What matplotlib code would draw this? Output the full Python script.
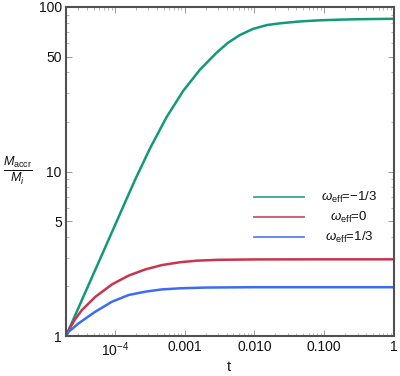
import numpy as np
import matplotlib
matplotlib.use("Agg")
import matplotlib.pyplot as plt
from matplotlib.ticker import FixedLocator, FixedFormatter, NullFormatter, LogLocator

plt.rcParams['font.family'] = ['Liberation Sans', 'DejaVu Sans']
plt.rcParams['mathtext.fontset'] = 'custom'
plt.rcParams['mathtext.rm'] = 'Liberation Sans'
plt.rcParams['mathtext.it'] = 'Liberation Sans:italic'
plt.rcParams['mathtext.bf'] = 'Liberation Sans:bold'

# data
t_green = [2e-5, 4e-5, 8e-5, 1.5e-4, 1.95e-4, 3.19e-4, 5.55e-4, 9.6e-4, 1.66e-3, 2.88e-3,
           4.2e-3, 6.22e-3, 9.55e-3, 0.0152, 0.0233, 0.045, 0.0871, 0.1686, 0.326, 1.0]
y_green = [1.0, 1.945, 3.78, 6.92, 8.89, 13.8, 21.5, 31.0, 41.6, 52.8,
           60.7, 67.6, 73.6, 77.7, 79.6, 81.7, 83.0, 83.8, 84.3, 84.8]

t_red = [2e-5, 2.19e-5, 2.72e-5, 3.39e-5, 5.26e-5, 9.12e-5, 1.58e-4, 2.74e-4, 4.74e-4,
         8.69e-4, 1.5e-3, 3e-3, 1e-2, 0.1, 1.0]
y_red = [1.0, 1.088, 1.27, 1.44, 1.73, 2.06, 2.33, 2.54, 2.70,
         2.81, 2.87, 2.905, 2.92, 2.925, 2.925]

t_blue = [2e-5, 2.19e-5, 3.04e-5, 5.26e-5, 9.12e-5, 1.58e-4, 2.74e-4, 4.74e-4,
          8.69e-4, 2e-3, 1e-2, 0.1, 1.0]
y_blue = [1.0, 1.062, 1.195, 1.405, 1.616, 1.775, 1.86, 1.92,
          1.95, 1.97, 1.98, 1.98, 1.98]

labels = [r'$\omega_{\rm eff}$=−1/3', r'$\omega_{\rm eff}$=0', r'$\omega_{\rm eff}$=1/3']
colors = ['#12997c', '#c9344f', '#3b6cf3']

x_ticks = [1e-4, 1e-3, 1e-2, 1e-1, 1]
x_ticklabels = [r'$10^{-4}$', '0.001', '0.010', '0.100', '1']
y_ticks = [1, 5, 10, 50, 100]
y_ticklabels = ['1', '5', '10', '50', '100']

fig = plt.figure(figsize=(4.0, 3.76), dpi=100)
ax = fig.add_axes([66/400, 40/376, 328/400, 329/376])

series = [(t_green, y_green), (t_red, y_red), (t_blue, y_blue)]
for (t, y), c in zip(series, colors):
    ax.plot(t, y, color=c, lw=1.8, solid_capstyle='round', solid_joinstyle='round')

ax.set_xscale('log')
ax.set_yscale('log')
ax.set_xlim(2e-5, 1)
ax.set_ylim(1, 100)

ax.xaxis.set_major_locator(FixedLocator(x_ticks))
ax.xaxis.set_major_formatter(FixedFormatter(x_ticklabels))
ax.xaxis.set_minor_locator(LogLocator(base=10, subs=np.arange(2, 10), numticks=20))
ax.xaxis.set_minor_formatter(NullFormatter())
ax.yaxis.set_major_locator(FixedLocator(y_ticks))
ax.yaxis.set_major_formatter(FixedFormatter(y_ticklabels))
ax.yaxis.set_minor_locator(FixedLocator([2, 3, 4, 6, 7, 8, 9, 20, 30, 40, 60, 70, 80, 90]))
ax.yaxis.set_minor_formatter(NullFormatter())

ax.tick_params(which='both', direction='in', top=True, right=True,
               color='#9a9a9a', labelsize=10, labelcolor='#111111', pad=3)
ax.tick_params(which='major', length=4, width=0.7)
ax.tick_params(which='minor', length=2.5, width=0.5)

for s in ax.spines.values():
    s.set_color('#505050')
    s.set_linewidth(1.5)

fig.text(18/400, 1 - 171/376, r'$\frac{M_{\rm accr}}{M_i}$', ha='center', va='center',
         fontsize=13, color='#111111')
fig.text(229/400, 1 - 367/376, 't', ha='center', va='center', fontsize=10.5, color='#111111')

# manual legend
leg_y = [197, 217, 237]
for lab, c, yy in zip(labels, colors, leg_y):
    yf = 1 - yy / 376
    fig.add_artist(plt.Line2D([254/400, 304/400], [yf, yf], color=c, lw=1.3, alpha=0.85,
                              transform=fig.transFigure))
    fig.text(349/400, yf, lab, ha='center', va='center', fontsize=9.5, color='#111111')

fig.savefig('out.png', dpi=100)
